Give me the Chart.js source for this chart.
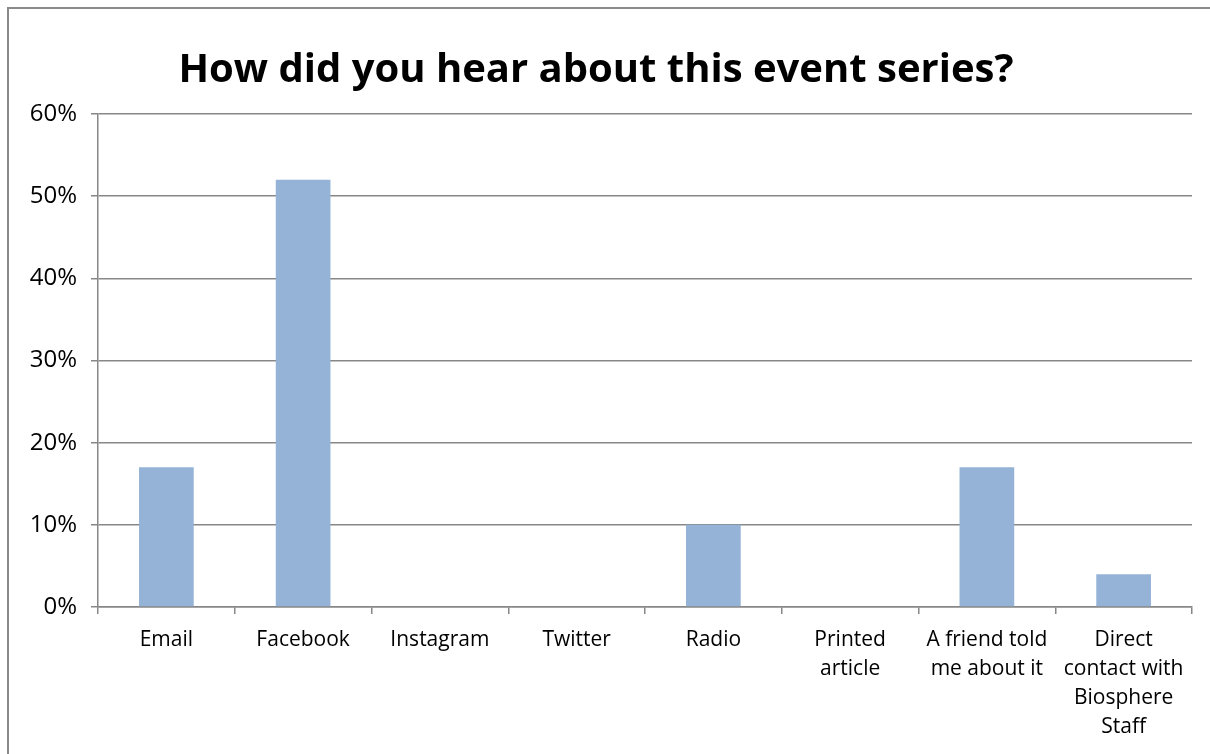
<!DOCTYPE html>
<html>
<head>
    <meta charset="UTF-8">
    <title>How did you hear about this event series?</title>
    <script src="https://cdn.jsdelivr.net/npm/chart.js@4.4.1/dist/chart.umd.min.js"></script>
    <style type="text/css">
        body { margin: 0; background: #fff; }
        #wrap { position: relative; width: 1210px; height: 754px; overflow: hidden; }
        #frame {
            position: absolute; left: 7px; top: 7px; width: 1300px; height: 900px;
            border-left: 2px solid #8a8a8a; border-top: 2px solid #8a8a8a;
        }
        #chart { position: absolute; left: 0; top: 0; }
    </style>
</head>
<body>
    <div id="wrap">
        <div id="frame"></div>
        <canvas id="chart" width="1210" height="754"></canvas>
    </div>
    <script type="text/javascript">
        // categories (multi-line labels as in the original)
        var categories = [
            "Email",
            "Facebook",
            "Instagram",
            "Twitter",
            "Radio",
            ["Printed", "article"],
            ["A friend told", "me about it"],
            ["Direct", "contact with", "Biosphere", "Staff"]
        ];
        // share of answers, as fractions
        var shares = [0.17, 0.52, 0, 0, 0.10, 0, 0.17, 0.04];
        var yTicks = [0, 0.1, 0.2, 0.3, 0.4, 0.5, 0.6];

        var gridColor = "#878787";
        var fontName = "'Open Sans'";

        var ctx = document.getElementById("chart").getContext("2d");
        var chart = new Chart(ctx, {
            type: "bar",
            data: {
                labels: categories,
                datasets: [{
                    label: "Share",
                    data: shares,
                    backgroundColor: "#95b3d7",
                    borderWidth: 0,
                    barPercentage: 0.4,
                    categoryPercentage: 1.0
                }]
            },
            options: {
                responsive: false,
                animation: false,
                layout: { padding: { left: 0, right: 18, top: 0, bottom: 0 } },
                plugins: {
                    legend: { display: false },
                    tooltip: { enabled: false },
                    title: {
                        display: true,
                        text: "How did you hear about this event series?",
                        color: "#000",
                        font: { family: fontName, size: 40, weight: "bold", lineHeight: 1.2 },
                        padding: { top: 47, bottom: 19 }
                    }
                },
                scales: {
                    x: {
                        grid: {
                            offset: true,
                            drawOnChartArea: false,
                            drawTicks: true,
                            tickLength: 7,
                            color: gridColor,
                            lineWidth: 1.5
                        },
                        border: { display: true, color: gridColor, width: 1.5 },
                        ticks: {
                            color: "#000",
                            font: { family: fontName, size: 21, lineHeight: 1.38 },
                            padding: 12,
                            maxRotation: 0,
                            autoSkip: false
                        },
                        afterFit: function (scale) { scale.height = 147; }
                    },
                    y: {
                        min: 0,
                        max: 0.6,
                        afterBuildTicks: function (scale) {
                            scale.ticks = yTicks.map(function (v) { return { value: v }; });
                        },
                        grid: {
                            color: gridColor,
                            lineWidth: 1.5,
                            tickLength: 7
                        },
                        border: { display: true, color: gridColor, width: 1.5 },
                        ticks: {
                            color: "#000",
                            font: { family: fontName, size: 24 },
                            padding: 14,
                            callback: function (v) { return Math.round(v * 100) + "%"; }
                        },
                        afterFit: function (scale) { scale.width = 98; }
                    }
                }
            }
        });
    </script>
</body>
</html>
